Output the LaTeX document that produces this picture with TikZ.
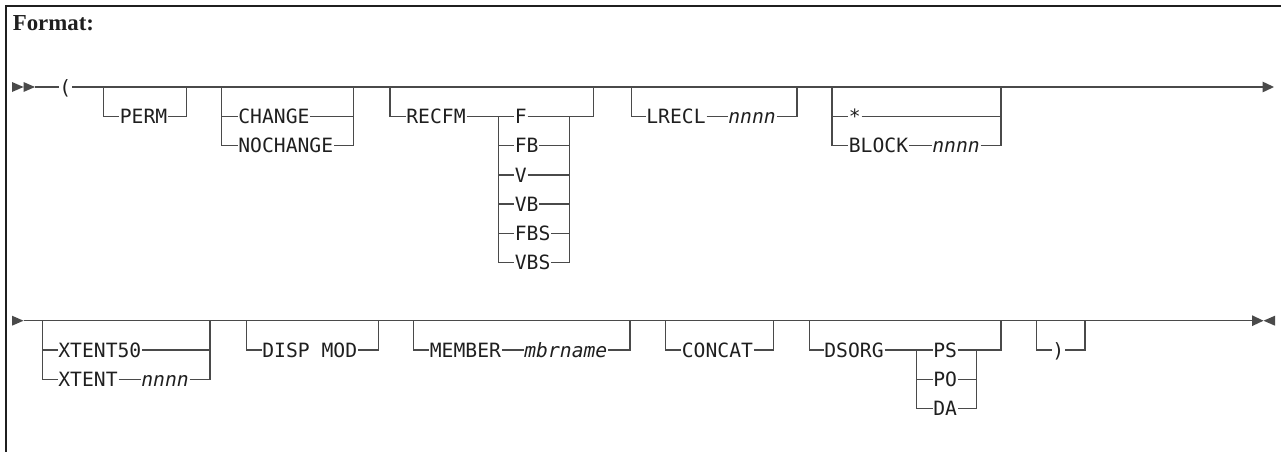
\documentclass[tikz,border=0pt]{standalone}
\usepackage{fontspec}
\setmonofont{DejaVu Sans Mono}
\newfontfamily\headfont{Liberation Serif}
\usepackage{tikz}
\usetikzlibrary{arrows.meta,positioning}
\definecolor{rail}{HTML}{4A4A4A}
\definecolor{ink}{HTML}{1F1F1F}
\tikzset{
    every picture/.style={line cap=butt,line join=miter},
    railline/.style={draw=rail,line width=0.8pt},
    frameline/.style={draw=ink,line width=1.1pt},
    kwnode/.style={anchor=west,inner xsep=0.5pt,inner ysep=0pt,outer sep=0pt,
      text height=8.1pt,text depth=0pt,text=ink,
      font=\ttfamily\fontsize{11.2}{13}\selectfont},
    varnode/.style={kwnode,font=\ttfamily\itshape\fontsize{11.2}{13}\selectfont},
    headnode/.style={anchor=base west,inner sep=0pt,text=ink,
      font=\headfont\bfseries\fontsize{13}{15}\selectfont},
    railend/.style={-{Triangle[length=2.3mm,width=2.1mm]}}
}

\begin{document}
\begin{tikzpicture}[x=0.2mm,y=-0.2mm]
  \useasboundingbox (0,0) rectangle (1281,452);
  \draw[frameline] (1281,6) -- (6,6) -- (6,452);
  \node[headnode] (title) at (12.5,30.7) {Format:};

  \coordinate (st1) at (35,87);
  \coordinate (en1) at (1274,87);
  \fill[rail] (12,82) -- (23.5,87) -- (12,92) -- cycle (23.5,82) -- (35,87) -- (23.5,92) -- cycle;
  \node[kwnode] (lp) at (58.5,87) {(};
  \draw[railline] (st1) -- (lp.west);
  \draw[railline,railend] (lp.east) -- (en1);
  \foreach \n/\x in {permL/103.3,permR/186.7,chgL/221.7,chgR/353.3,recL/390,recR/593.3,lrL/631.7,lrR/797,blkL/832,blkR/1001}
    \coordinate (\n) at (\x,87);

  \node[kwnode] (perm) at (119,116.5) {PERM};
  \draw[railline] (permL) |- (perm.west) (perm.east) -| (permR);

  \node[kwnode] (chg) at (237.5,116.5) {CHANGE};
  \node[kwnode] (nochg) at (237.5,145.7) {NOCHANGE};
  \draw[railline] (chgL) |- (nochg.west) (nochg.east) -| (chgR)
    (chgL |- chg.west) -- (chg.west) (chg.east) -- (chgR |- chg.east);

  \node[kwnode] (recfm) at (405.5,116.5) {RECFM};
  \foreach \f [count=\i] in {F,FB,V,VB,FBS,VBS}
    \node[kwnode] (fmt\i) at (514,87.3+29.2*\i) {\f};
  \coordinate (recI) at (498.3,116.5);
  \coordinate (recO) at (569.3,116.5);
  \draw[railline] (recL) |- (recfm.west) (recfm.east) -- (fmt1.west) (fmt1.east) -| (recR)
    (recI) |- (fmt6.west) (recO) |- (fmt6.east);
  \foreach \i in {2,...,5}
    \draw[railline] (recI |- fmt\i.west) -- (fmt\i.west) (fmt\i.east) -- (recO |- fmt\i.east);

  \node[kwnode] (lrecl) at (645.5,116.5) {LRECL};
  \node[varnode] (lrecln) at (727.5,116.5) {nnnn};
  \draw[railline] (lrL) |- (lrecl.west) (lrecl.east) -- (lrecln.west) (lrecln.east) -| (lrR);

  \node[kwnode] (star) at (848,116.5) {*};
  \node[kwnode] (block) at (848,145.7) {BLOCK};
  \node[varnode] (blockn) at (931.5,145.7) {nnnn};
  \draw[railline] (blkL) |- (block.west) (block.east) -- (blockn.west) (blockn.east) -| (blkR)
    (blkL |- star.west) -- (star.west) (star.east) -- (blkR |- star.east);

  \coordinate (st2) at (23.5,320.7);
  \coordinate (en2) at (1263.5,320.7);
  \fill[rail] (12,315.7) -- (23.5,320.7) -- (12,325.7) -- cycle;
  \draw[railline,railend] (st2) -- (en2);
  \fill[rail] (1275,315.7) -- (1263.5,320.7) -- (1275,325.7) -- cycle;
  \foreach \n/\x in {xtL/42.3,xtR/210,dispL/246.7,dispR/378.3,memL/413.3,memR/630,catL/665.7,catR/773.3,dsL/809.3,dsR/1001,rpL/1036.7,rpR/1085}
    \coordinate (\n) at (\x,320.7);

  \node[kwnode] (xt50) at (57.5,350) {XTENT50};
  \node[kwnode] (xt) at (57.5,379.3) {XTENT};
  \node[varnode] (xtn) at (140.5,379.3) {nnnn};
  \draw[railline] (xtL) |- (xt.west) (xt.east) -- (xtn.west) (xtn.east) -| (xtR)
    (xtL |- xt50.west) -- (xt50.west) (xt50.east) -- (xtR |- xt50.east);

  \node[kwnode] (disp) at (261.5,350) {DISP MOD};
  \draw[railline] (dispL) |- (disp.west) (disp.east) -| (dispR);

  \node[kwnode] (member) at (429,350) {MEMBER};
  \node[varnode] (mbr) at (523.5,350) {mbrname};
  \draw[railline] (memL) |- (member.west) (member.east) -- (mbr.west) (mbr.east) -| (memR);

  \node[kwnode] (concat) at (681,350) {CONCAT};
  \draw[railline] (catL) |- (concat.west) (concat.east) -| (catR);

  \node[kwnode] (dsorg) at (823.5,350) {DSORG};
  \foreach \o [count=\i] in {PS,PO,DA}
    \node[kwnode] (org\i) at (932.5,320.7+29.3*\i) {\o};
  \coordinate (dsI) at (916.7,350);
  \coordinate (dsO) at (976.7,350);
  \draw[railline] (dsL) |- (dsorg.west) (dsorg.east) -- (org1.west) (org1.east) -| (dsR)
    (dsI) |- (org3.west) (dsO) |- (org3.east)
    (dsI |- org2.west) -- (org2.west) (org2.east) -- (dsO |- org2.east);

  \node[kwnode] (rp) at (1051.5,350) {)};
  \draw[railline] (rpL) |- (rp.west) (rp.east) -| (rpR);
\end{tikzpicture}
\end{document}
